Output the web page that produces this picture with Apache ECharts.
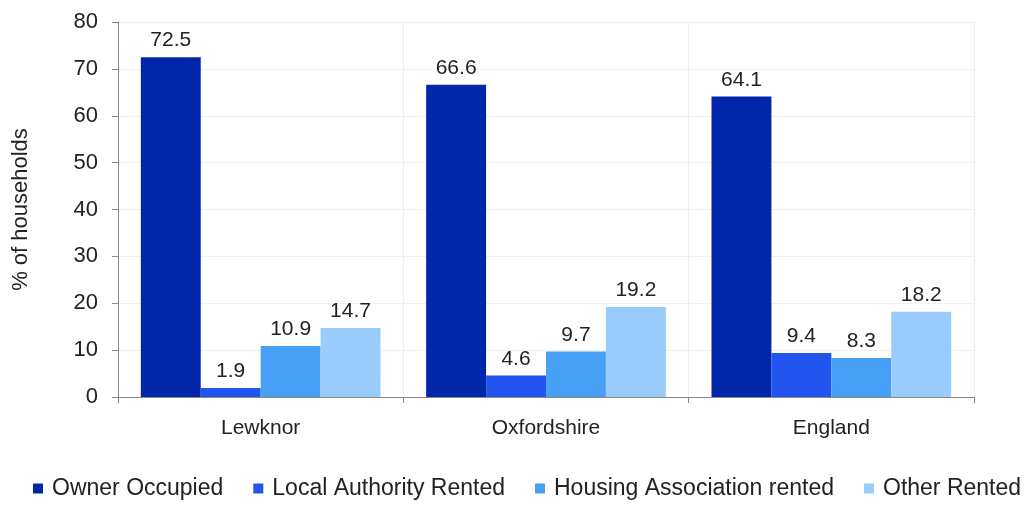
<!DOCTYPE html>
<html><head><meta charset="utf-8">
<script src="https://cdn.jsdelivr.net/npm/echarts@6/dist/echarts.min.js"></script>
<style>html,body{margin:0;padding:0;background:#fff}#c{width:1027px;height:509px}</style>
</head><body><div id="c"></div>
<script>
var categories = ['Lewknor', 'Oxfordshire', 'England'];
var seriesNames = ['Owner Occupied', 'Local Authority Rented', 'Housing Association rented', 'Other Rented'];
var ownerOccupied = [72.5, 66.6, 64.1];
var localAuthority = [1.9, 4.6, 9.4];
var housingAssoc = [10.9, 9.7, 8.3];
var otherRented = [14.7, 19.2, 18.2];
var colors = ['#0226AA', '#2254EE', '#47A0F6', '#99CBFC'];
var values = [ownerOccupied, localAuthority, housingAssoc, otherRented];

var chart = echarts.init(document.getElementById('c'));
var font = 'Liberation Sans, Arial, sans-serif';
chart.setOption({
  animation: false,
  color: colors,
  grid: {left: 118, right: 53, top: 22, bottom: 112, containLabel: false},
  legend: {
    bottom: 4, left: 28, itemWidth: 10, itemHeight: 10, itemGap: 30,
    icon: 'rect',
    textStyle: {fontFamily: font, fontSize: 23, color: '#222', padding: [0, 0, 0, 4]},
    data: seriesNames
  },
  xAxis: {
    type: 'category', data: categories,
    axisLine: {lineStyle: {color: '#888'}},
    axisTick: {show: true, length: 6, lineStyle: {color: '#888'}},
    splitLine: {show: true, lineStyle: {color: '#eee'}},
    axisLabel: {fontFamily: font, fontSize: 21, color: '#222', margin: 21}
  },
  yAxis: {
    type: 'value', min: 0, max: 80, interval: 10,
    name: '% of households', nameLocation: 'middle', nameGap: 86, nameRotate: 90,
    nameTextStyle: {fontFamily: font, fontSize: 22, color: '#222'},
    axisLine: {show: true, lineStyle: {color: '#888'}},
    axisTick: {show: true, length: 6, lineStyle: {color: '#888'}},
    splitLine: {show: true, lineStyle: {color: '#f0f0f0'}},
    axisLabel: {fontFamily: font, fontSize: 22, color: '#222', margin: 20}
  },
  series: seriesNames.map(function(n, i){
    return {
      name: n, type: 'bar', data: values[i],
      barGap: '0%', barCategoryGap: '16%',
      label: {show: true, position: 'top', distance: 6, fontFamily: font, fontSize: 21, color: '#222'}
    };
  })
});
</script></body></html>
